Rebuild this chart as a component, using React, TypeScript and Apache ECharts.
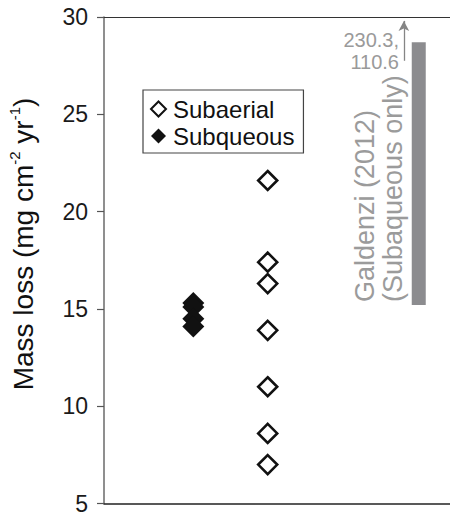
import React, { useEffect, useRef } from "react";
import * as echarts from "echarts";

// Data
const subaerialValues = [21.6, 17.4, 16.3, 13.9, 11.0, 8.6, 7.0];
const subqueousValues = [15.3, 15.1, 14.5, 14.1];
const subqueousX = 1.2;
const subaerialX = 2.2;
const galdenziX = 4.23;
const galdenziRange = [15.2, 28.7];
const galdenziArrow = [27.75, 29.8];
const galdenziOffscale = ["230.3,", "110.6"];
const yTicks = { min: 5, max: 30, interval: 5 };
const seriesNames = ["Subaerial", "Subqueous"];

const FONT = "'Liberation Sans', Arial, Helvetica, sans-serif";

export default function App() {
  const ref = useRef<HTMLDivElement>(null);

  useEffect(() => {
    if (!ref.current) return;
    const chart = echarts.init(ref.current, undefined, { renderer: "svg" });

    const option: any = {
      animation: false,
      backgroundColor: "#ffffff",
      textStyle: { fontFamily: FONT },
      grid: { left: 104, right: 0, top: 17, bottom: 8, containLabel: false },
      xAxis: [
        {
          type: "value",
          min: 0,
          max: 4.65,
          position: "bottom",
          axisLine: { show: true, lineStyle: { color: "#222", width: 1.5 } },
          axisTick: { show: false },
          axisLabel: { show: false },
          splitLine: { show: false },
        },
        {
          type: "value",
          min: 0,
          max: 4.65,
          position: "top",
          axisLine: { show: true, lineStyle: { color: "#333", width: 1.2 } },
          axisTick: { show: false },
          axisLabel: { show: false },
          splitLine: { show: false },
        },
      ],
      yAxis: {
        type: "value",
        min: yTicks.min,
        max: yTicks.max,
        interval: yTicks.interval,
        axisLine: { show: true, onZero: false, lineStyle: { color: "#6a6a6a", width: 1.5 } },
        axisTick: { show: true, inside: false, length: 7, lineStyle: { color: "#555", width: 1.2 } },
        axisLabel: {
          margin: 16,
          fontSize: 23,
          color: "#1a1a1a",
          fontFamily: FONT,
        },
        splitLine: { show: false },
      },
      legend: {
        data: [
          {
            name: seriesNames[0],
            icon: "diamond",
            itemStyle: { color: "#ffffff", borderColor: "#111", borderWidth: 2 },
          },
          {
            name: seriesNames[1],
            icon: "diamond",
            itemStyle: { color: "#111", borderColor: "#111", borderWidth: 0 },
          },
        ],
        orient: "vertical",
        left: 143,
        top: 90,
        padding: [7, 9, 5, 7],
        itemGap: 3,
        itemWidth: 15,
        itemHeight: 15,
        borderColor: "#444",
        borderWidth: 1.2,
        backgroundColor: "#fff",
        textStyle: { fontSize: 24, color: "#111", fontFamily: FONT, padding: [0, 0, 0, 2] },
        selectedMode: false,
      },
      series: [
        {
          name: seriesNames[0],
          type: "scatter",
          symbol: "diamond",
          symbolSize: 19,
          itemStyle: { color: "#ffffff", borderColor: "#111", borderWidth: 2.6, opacity: 1 },
          data: subaerialValues.map((v) => [subaerialX, v]),
          z: 3,
        },
        {
          name: seriesNames[1],
          type: "scatter",
          symbol: "diamond",
          symbolSize: 22,
          itemStyle: { color: "#111", borderWidth: 0, opacity: 1 },
          data: subqueousValues.map((v) => [subqueousX, v]),
          z: 3,
        },
        {
          name: "Galdenzi",
          type: "custom",
          data: [[galdenziX, galdenziRange[0], galdenziRange[1]]],
          renderItem: (params: any, api: any) => {
            const x = api.value(0);
            const lo = api.coord([x, api.value(1)]);
            const hi = api.coord([x, api.value(2)]);
            const w = 14;
            return {
              type: "rect",
              shape: { x: lo[0] - w / 2, y: hi[1], width: w, height: lo[1] - hi[1] },
              style: { fill: "#8c8c8f" },
            };
          },
          markLine: {
            silent: true,
            symbol: ["none", "arrow"],
            symbolSize: [8, 10],
            label: { show: false },
            lineStyle: { color: "#858585", width: 1.3, type: "solid" },
            data: [
              [
                { coord: [galdenziX - 0.2, galdenziArrow[0]] },
                { coord: [galdenziX - 0.2, galdenziArrow[1]] },
              ],
            ],
          },
          z: 2,
        },
      ],
      graphic: [
        {
          type: "text",
          x: 23,
          y: 244,
          rotation: Math.PI / 2,
          style: {
            text: "{m|Mass loss (mg cm}{s|-2}{m| yr}{s|-1}{m|)}",
            textAlign: "center",
            textVerticalAlign: "middle",
            rich: {
              m: { fontSize: 28, fontFamily: FONT, fill: "#111", lineHeight: 32 },
              s: { fontSize: 15, fontFamily: FONT, fill: "#111", lineHeight: 20, verticalAlign: "top" },
            },
          },
        },
        {
          type: "text",
          x: 379,
          y: 302,
          rotation: Math.PI / 2,
          style: {
            text: "Galdenzi (2012)\n(Subaqueous only)",
            fontSize: 27,
            lineHeight: 28,
            fontFamily: FONT,
            fill: "#9b9b9b",
            textAlign: "left",
            textVerticalAlign: "middle",
          },
        },
        {
          type: "text",
          x: 399,
          y: 51,
          style: {
            text: galdenziOffscale.join("\n"),
            fontSize: 20,
            lineHeight: 22,
            fontFamily: FONT,
            fill: "#9a9a9a",
            textAlign: "right",
            textVerticalAlign: "middle",
          },
        },
      ],
    };

    chart.setOption(option);
    return () => chart.dispose();
  }, []);

  return (
    <div
      ref={ref}
      style={{ position: "fixed", left: 0, top: 0, width: 450, height: 515, background: "#fff" }}
    />
  );
}
